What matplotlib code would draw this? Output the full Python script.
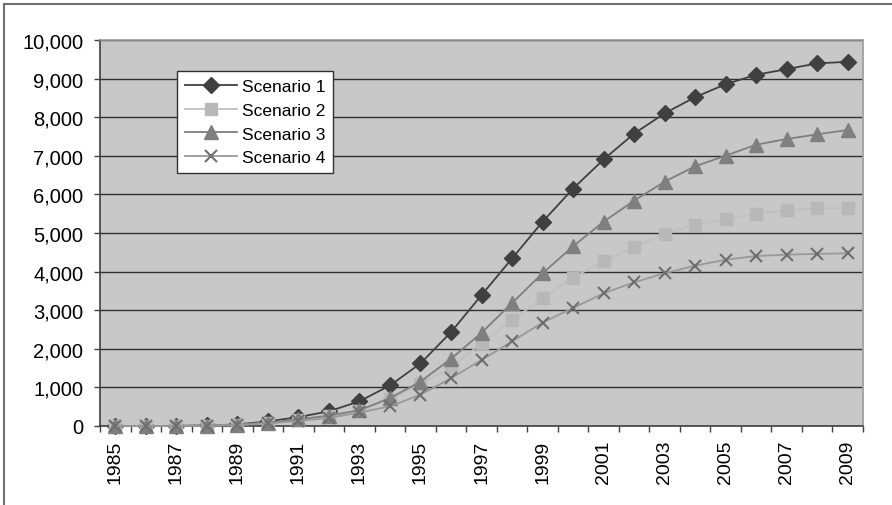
import numpy as np
import matplotlib
matplotlib.use("Agg")
import matplotlib.pyplot as plt
from matplotlib.lines import Line2D
from matplotlib.ticker import FuncFormatter, FixedLocator

plt.rcParams['font.family'] = ['Liberation Sans', 'DejaVu Sans']

# data
years = list(range(1985, 2010))
scenario1 = [0, 0, 5, 15, 40, 120, 230, 380, 640, 1050, 1620, 2430, 3390, 4340, 5290,
             6150, 6905, 7575, 8100, 8520, 8855, 9100, 9245, 9395, 9435]
scenario2 = [0, 0, 3, 10, 30, 80, 160, 250, 390, 700, 1090, 1520, 2140, 2740, 3310,
             3845, 4270, 4640, 4975, 5215, 5355, 5500, 5595, 5635, 5640]
scenario3 = [0, 0, 3, 10, 35, 90, 170, 270, 410, 720, 1150, 1740, 2415, 3185, 3956,
             4655, 5293, 5837, 6330, 6728, 7003, 7288, 7435, 7557, 7668]
scenario4 = [0, 0, 2, 8, 25, 65, 130, 210, 350, 510, 810, 1236, 1710, 2190, 2680,
             3057, 3437, 3722, 3956, 4153, 4308, 4404, 4438, 4460, 4474]
names = ["Scenario 1", "Scenario 2", "Scenario 3", "Scenario 4"]

"1|FIGURE"
fig = plt.figure(figsize=(8.92, 5.06), dpi=100)
ax = fig.add_axes([100/892, 79/506, 763/892, 386/506])
ax.set_facecolor("#c8c8c8")

x = np.arange(len(years))
styles = [
    dict(color="#404040", marker="D", ms=8, mfc="#404040", mec="#404040", lw=1.3),
    dict(color="#c0c0c0", marker="s", ms=8, mfc="#b8b8b8", mec="#b8b8b8", lw=1.3),
    dict(color="#7f7f7f", marker="^", ms=10, mfc="#7f7f7f", mec="#7f7f7f", lw=1.3),
    dict(color="#999999", marker="x", ms=9, mfc="#6f6f6f", mec="#6f6f6f", mew=1.5, lw=1.3),
]
for ys, name, st in zip([scenario1, scenario2, scenario3, scenario4], names, styles):
    ax.plot(x, ys, label=name, zorder=3, clip_on=False, **st)

"2|AXES"
ax.set_xlim(-0.5, len(years) - 0.5)
ax.set_ylim(0, 10000)
ax.set_yticks(np.arange(0, 10001, 1000))
ax.yaxis.set_major_formatter(FuncFormatter(lambda v, p: f"{int(v):,}"))
ax.grid(axis="y", color="#303030", lw=1, zorder=1)
ax.set_axisbelow(True)

ax.xaxis.set_major_locator(FixedLocator(x[::2]))
ax.set_xticklabels([str(y) for y in years[::2]], rotation=90)
ax.xaxis.set_minor_locator(FixedLocator(np.arange(len(years) + 1) - 0.5))
ax.tick_params(axis="x", which="major", length=0, pad=10, labelsize=14)
ax.tick_params(axis="x", which="minor", length=4, width=1, color="#404040")
ax.tick_params(axis="y", length=4, width=1, color="#404040", labelsize=14.5, pad=8)

for s in ["left", "bottom"]:
    ax.spines[s].set_color("#404040")
    ax.spines[s].set_linewidth(1.2)
for s in ["top", "right"]:
    ax.spines[s].set_color("#9a9a9a")
    ax.spines[s].set_linewidth(1.2)

leg = ax.legend(loc="upper left", bbox_to_anchor=(77/763, 0.92), borderaxespad=0,
                fontsize=12.5, frameon=True, fancybox=False, handlelength=3.0,
                labelspacing=0.5, borderpad=0.45, handletextpad=0.3)
leg.get_frame().set_edgecolor("#303030")
leg.get_frame().set_linewidth(1)
leg.get_frame().set_facecolor("white")
leg.get_frame().set_alpha(1)

# outer chart border (left and top only visible)
fig.add_artist(Line2D([4/892, 4/892], [0, 1 - 5/506], transform=fig.transFigure,
                      color="#707070", lw=1.5))
fig.add_artist(Line2D([4/892, 1], [1 - 5/506, 1 - 5/506], transform=fig.transFigure,
                      color="#707070", lw=1.5))

fig.savefig("out.png", dpi=100)
